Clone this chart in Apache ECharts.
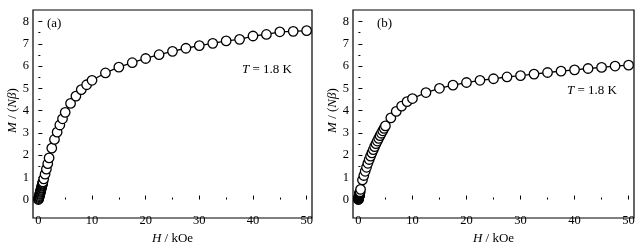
<!DOCTYPE html>
<html><head><meta charset="utf-8">
<script src="https://cdn.jsdelivr.net/npm/echarts@6/dist/echarts.min.js"></script>
<style>html,body{margin:0;padding:0;background:#fff}#c{width:644px;height:250px}</style>
</head><body><div id="c"></div>
<script>
// Panel (a): field H (kOe) and magnetization M (Nβ)
const H_A = [0,0.05,0.1,0.15,0.2,0.25,0.3,0.35,0.4,0.45,0.5,0.55,0.6,0.65,0.7,0.75,0.8,0.85,
  1,1.25,1.5,1.75,2,2.5,3,3.5,4,4.5,5,6,7,8,9,10,12.5,15,17.5,20,22.5,25,27.5,30,32.5,35,37.5,40,42.5,45,47.5,50];
const M_A = [0,0.04,0.09,0.13,0.18,0.23,0.27,0.32,0.37,0.41,0.46,0.51,0.55,0.6,0.65,0.69,0.74,0.79,
  0.93,1.14,1.37,1.61,1.87,2.31,2.7,3.03,3.35,3.63,3.92,4.32,4.65,4.94,5.16,5.36,5.69,5.95,6.15,6.34,6.51,6.66,6.8,6.92,7.02,7.13,7.2,7.35,7.42,7.54,7.56,7.59];
// Panel (b)
const H_B = [0,0.02,0.04,0.06,0.08,0.1,0.12,0.14,0.16,0.18,0.2,0.22,0.24,0.26,0.28,0.3,0.4,
  0.75,1,1.25,1.5,1.75,2,2.25,2.5,2.75,3,3.25,3.5,3.75,4,4.25,4.5,4.75,5,
  6,7,8,9,10,12.5,15,17.5,20,22.5,25,27.5,30,32.5,35,37.5,40,42.5,45,47.5,50];
const M_B = [0,0.02,0.05,0.07,0.09,0.12,0.14,0.16,0.18,0.21,0.23,0.25,0.28,0.3,0.32,0.35,0.46,
  0.88,1.08,1.27,1.45,1.63,1.8,1.95,2.1,2.24,2.38,2.51,2.63,2.75,2.87,2.98,3.09,3.2,3.31,
  3.67,3.96,4.2,4.4,4.54,4.81,5.0,5.14,5.26,5.36,5.43,5.51,5.57,5.64,5.71,5.77,5.83,5.89,5.94,6.0,6.04];
const X_TICK = [0, 50, 10];   // min, max, interval
const Y_TICK = [0, 8, 1];
const X_VIEW = [-1, 51];
const Y_VIEW = [-0.5, 8.5];
const PANEL_LABELS = ['(a)', '(b)'];
const T_LABEL = '{i|T} = 1.8 K';

const FONT = '"Liberation Serif", "Times New Roman", serif';
const boxes = [
  {x0: 33, x1: 312, y0: 10, y1: 218, lab: [47, 17], t: [242, 63]},
  {x0: 353, x1: 634, y0: 10, y1: 218, lab: [377, 17], t: [567, 84]}
];
const data = [[H_A, M_A], [H_B, M_B]];

const grid = [], xAxis = [], yAxis = [], series = [], graphic = [];
boxes.forEach((b, p) => {
  const w = b.x1 - b.x0, h = b.y1 - b.y0;
  const px = w / (X_VIEW[1] - X_VIEW[0]);
  const py = h / (Y_VIEW[1] - Y_VIEW[0]);
  const dl = (X_TICK[0] - X_VIEW[0]) * px, dr = (X_VIEW[1] - X_TICK[1]) * px;
  const dt = (Y_VIEW[1] - Y_TICK[1]) * py, db = (Y_TICK[0] - Y_VIEW[0]) * py;
  grid.push({left: b.x0, top: b.y0, width: w, height: h, show: true, borderColor: '#000', borderWidth: 1.2, backgroundColor: 'transparent'});
  grid.push({left: b.x0 + dl, top: b.y0 + dt, width: w - dl - dr, height: h - dt - db});
  const gi = p * 2;
  xAxis.push({gridIndex: gi, type: 'value', min: X_VIEW[0], max: X_VIEW[1], show: false});
  yAxis.push({gridIndex: gi, type: 'value', min: Y_VIEW[0], max: Y_VIEW[1], show: false});
  xAxis.push({
    gridIndex: gi + 1, type: 'value', min: X_TICK[0], max: X_TICK[1], interval: X_TICK[2],
    offset: db,
    axisLine: {show: false},
    axisTick: {inside: true, length: 4, lineStyle: {color: '#000', width: 1}},
    minorTick: {show: true, splitNumber: 2, length: 2, lineStyle: {color: '#000', width: 1}},
    splitLine: {show: false},
    axisLabel: {color: '#000', fontFamily: FONT, fontSize: 12.5, margin: 3},
    name: '{i|H} / kOe', nameLocation: 'middle', nameGap: 15,
    nameTextStyle: {color: '#000', fontFamily: FONT, fontSize: 13, rich: {i: {fontStyle: 'italic', fontFamily: FONT, fontSize: 13, color: '#000'}}}
  });
  yAxis.push({
    gridIndex: gi + 1, type: 'value', min: Y_TICK[0], max: Y_TICK[1], interval: Y_TICK[2],
    offset: dl,
    axisLine: {show: false},
    axisTick: {inside: true, length: 4, lineStyle: {color: '#000', width: 1}},
    minorTick: {show: true, splitNumber: 2, length: 2, lineStyle: {color: '#000', width: 1}},
    splitLine: {show: false},
    axisLabel: {color: '#000', fontFamily: FONT, fontSize: 12.5, margin: 4},
    name: '{i|M} / ({i|Nβ})', nameLocation: 'middle', nameGap: 14,
    nameTextStyle: {color: '#000', fontFamily: FONT, fontSize: 13, rich: {i: {fontStyle: 'italic', fontFamily: FONT, fontSize: 13, color: '#000'}}}
  });
  const [H, M] = data[p];
  series.push({
    type: 'line', xAxisIndex: p * 2 + 1, yAxisIndex: p * 2 + 1,
    data: H.map((v, i) => [v, M[i]]),
    symbol: 'circle', symbolSize: 9.5, showAllSymbol: true, clip: false,
    lineStyle: {color: '#000', width: 1.3},
    itemStyle: {color: '#fff', borderColor: '#000', borderWidth: 1.3},
    emphasis: {disabled: true}, silent: true
  });
  graphic.push({type: 'text', left: b.lab[0], top: b.lab[1],
    style: {text: PANEL_LABELS[p], fill: '#000', font: '13px ' + FONT}});
  graphic.push({type: 'text', left: b.t[0], top: b.t[1],
    style: {text: T_LABEL, fill: '#000', font: '13px ' + FONT,
      rich: {i: {fontStyle: 'italic', fontFamily: FONT, fontSize: 13, fill: '#000'}}}});
});

const chart = echarts.init(document.getElementById('c'), null, {renderer: 'canvas'});
chart.setOption({animation: false, backgroundColor: '#fff', grid, xAxis, yAxis, series, graphic});
</script></body></html>
